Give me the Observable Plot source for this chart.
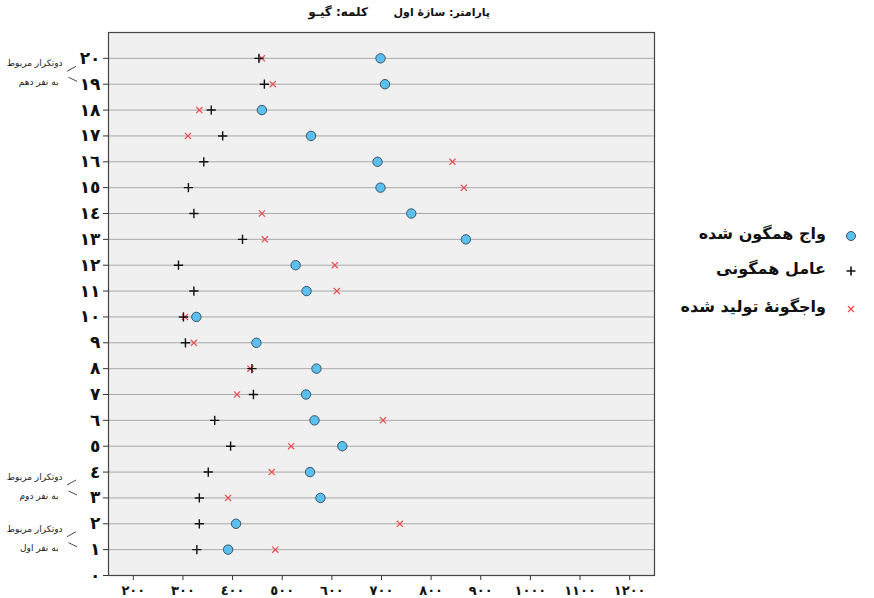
<!DOCTYPE html>
<html>
<head>
<meta charset="utf-8">
<script src="https://cdn.jsdelivr.net/npm/d3@7"></script>
<script src="https://cdn.jsdelivr.net/npm/@observablehq/plot@0.6"></script>
<style>
  body { margin: 0; background: white; font-family: "DejaVu Sans", sans-serif; }
  #wrap { position: relative; width: 874px; height: 598px; }
  .t { position: absolute; white-space: nowrap; direction: rtl; font-weight: bold; color: #111; }
  .leg { position: absolute; white-space: nowrap; direction: rtl; font-size: 16px; font-weight: bold; color: #111; }
  .sym { position: absolute; }
</style>
</head>
<body>
<div id="wrap"></div>
<script>
// ---- data ----
const rows = [1,2,3,4,5,6,7,8,9,10,11,12,13,14,15,16,17,18,19,20];
const assimilated = [391,407,577,556,621,565,548,569,448,327,549,527,870,760,698,692,558,459,707,698];   // واج همگون شده
const trigger     = [328,333,333,351,396,364,442,439,305,301,322,291,420,322,311,342,380,357,464,453];   // عامل همگونی
const produced    = [486,737,391,479,518,703,409,436,322,304,610,606,465,459,866,843,310,333,481,459];   // واجگونهٔ تولید شده
const xTicks = [200,300,400,500,600,700,800,900,1000,1100,1200];
const yTicks = [0,1,2,3,4,5,6,7,8,9,10,11,12,13,14,15,16,17,18,19,20];
const seriesNames = ["واج همگون شده", "عامل همگونی", "واجگونهٔ تولید شده"];
const titleParam = "پارامتر: سازهٔ اول";
const titleWord = "کلمه: گیـو";
const annotTop = [20, 4, 2];
const annotBottom = [19, 3, 1];
const annotLine1 = ["دوتکرار مربوط", "دوتکرار مربوط", "دوتکرار مربوط"];
const annotLine2 = ["به نفر دهم", "به نفر دوم", "به نفر اول"];

const arabicDigits = "٠١٢٣٤٥٦٧٨٩";
const toAr = d => String(d).replace(/\d/g, c => arabicDigits[+c]);

const pts = rows.map((r, i) => ({row: r, a: assimilated[i], t: trigger[i], p: produced[i]}));
const annIdx = annotTop.map((_, i) => i);

const colBlue = "#5bbff0", colBlueStroke = "#3b5566", colRed = "#ec4b4f";

function brackets(index, scales, values, dims) {
  const g = d3.create("svg:g").attr("stroke", "#333").attr("stroke-width", 0.9);
  const x0 = dims.marginLeft;
  annIdx.forEach(i => {
    const yc = (scales.y(annotTop[i]) + scales.y(annotBottom[i])) / 2;
    g.append("line").attr("x1", x0 - 41).attr("y1", yc + 0.5).attr("x2", x0 - 32).attr("y2", yc - 4.5);
    g.append("line").attr("x1", x0 - 39.5).attr("y1", yc + 6.5).attr("x2", x0 - 31).attr("y2", yc + 10.5);
  });
  return g.node();
}

const chart = Plot.plot({
  width: 874,
  height: 598,
  marginLeft: 108,
  marginRight: 220,
  marginTop: 32,
  marginBottom: 23,
  style: {background: "white", fontFamily: "DejaVu Sans, sans-serif", color: "#111", overflow: "visible"},
  x: {domain: [150, 1250]},
  y: {domain: [0, 21]},
  marks: [
    Plot.frame({fill: "#f0f0f0"}),
    Plot.gridY(rows, {stroke: "#a9a9a9", strokeOpacity: 1}),
    Plot.axisY({ticks: yTicks, tickFormat: toAr, tickSize: 5, tickPadding: 3, fontSize: 17, fontWeight: "bold", label: null, stroke: "#333"}),
    Plot.axisX({ticks: xTicks, tickFormat: toAr, tickSize: 5, tickPadding: 5, fontSize: 13, fontWeight: "bold", label: null, stroke: "#333"}),
    Plot.frame({stroke: "#444", strokeWidth: 1.2}),
    Plot.dot(pts, {x: "p", y: "row", symbol: "times", r: 2.9, stroke: colRed, strokeWidth: 1.2}),
    Plot.dot(pts, {x: "t", y: "row", symbol: "plus", r: 3.1, stroke: "#111", strokeWidth: 1.4}),
    Plot.dot(pts, {x: "a", y: "row", symbol: "circle", r: 4.7, fill: colBlue, stroke: colBlueStroke, strokeWidth: 1}),
    Plot.text(annIdx, {x: () => 150, y: i => annotTop[i], text: i => annotLine1[i], dx: -46, dy: 5, textAnchor: "end", fontSize: 9, fill: "#222", clip: false}),
    Plot.text(annIdx, {x: () => 150, y: i => annotBottom[i], text: i => annotLine2[i], dx: -50, dy: -2, textAnchor: "end", fontSize: 9, fill: "#222", clip: false}),
    brackets
  ]
});

const wrap = document.getElementById("wrap");
wrap.appendChild(chart);

// title
const t1 = document.createElement("div");
t1.className = "t"; t1.textContent = titleParam;
t1.style.cssText = "right:384px; top:6px; font-size:11px;";
wrap.appendChild(t1);
const t2 = document.createElement("div");
t2.className = "t"; t2.textContent = titleWord;
t2.style.cssText = "right:506px; top:5px; font-size:12px;";
wrap.appendChild(t2);

// legend
const legY = [236, 271, 309];
const legSym = [
  `<circle cx="8" cy="8" r="4.5" fill="${colBlue}" stroke="${colBlueStroke}" stroke-width="1"/>`,
  `<path d="M3.5,8H12.5M8,3.5V12.5" stroke="#111" stroke-width="1.6"/>`,
  `<path d="M5,5L11,11M11,5L5,11" stroke="${colRed}" stroke-width="1.2"/>`
];
seriesNames.forEach((name, i) => {
  const s = document.createElement("div");
  s.className = "sym";
  s.style.cssText = `left:${851 - 8}px; top:${legY[i] - 8}px; width:16px; height:16px;`;
  s.innerHTML = `<svg width="16" height="16">${legSym[i]}</svg>`;
  wrap.appendChild(s);
  const l = document.createElement("div");
  l.className = "leg"; l.textContent = name;
  l.style.cssText = `right:${874 - 826}px; top:${legY[i] - 12}px;`;
  wrap.appendChild(l);
});
</script>
</body>
</html>
